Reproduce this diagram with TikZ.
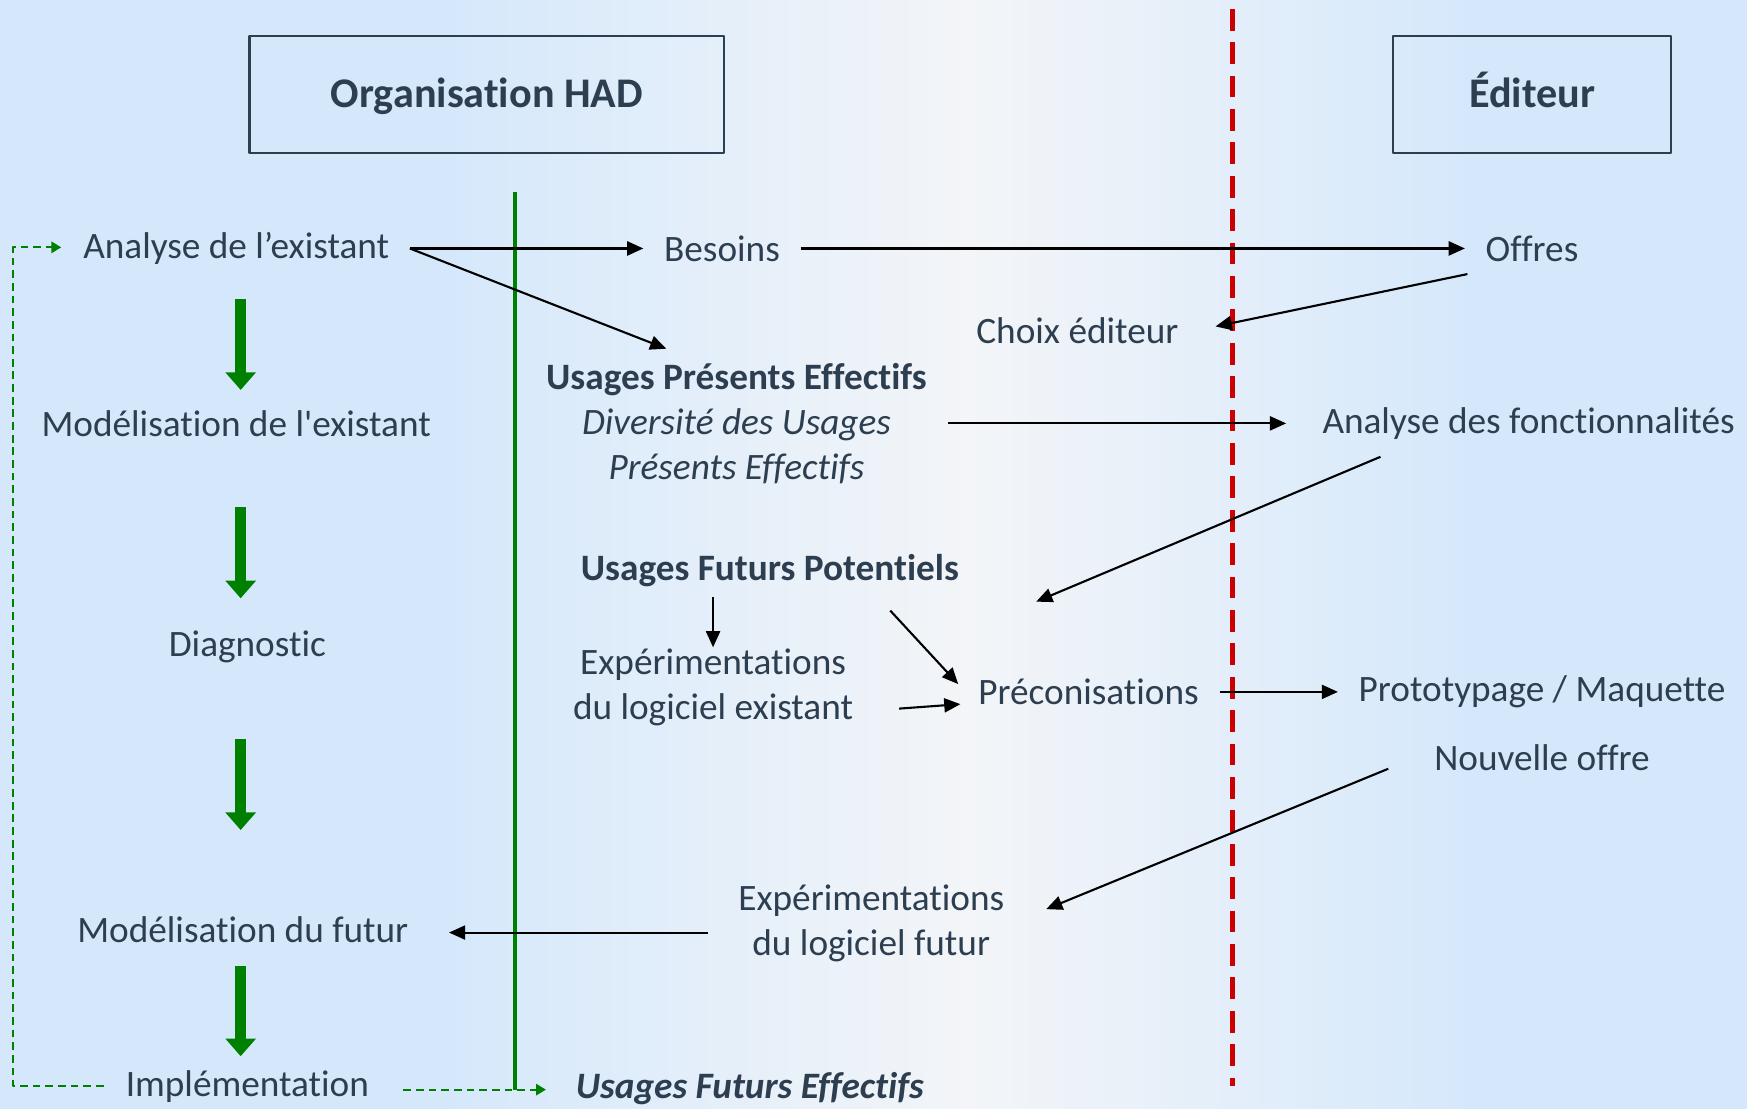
\documentclass[tikz,border=0pt]{standalone}
\usepackage{fontspec}
\setmainfont{Carlito}[Ligatures={NoCommon}]
\usetikzlibrary{arrows.meta,calc}
\definecolor{txtslate}{RGB}{44,62,80}
\definecolor{bgblue}{RGB}{213,232,251}
\definecolor{bgmid}{RGB}{243,245,248}
\definecolor{hadgreen}{RGB}{0,128,0}
\definecolor{sepred}{RGB}{204,0,0}
\begin{document}
\begin{tikzpicture}[x=0.01114cm, y=-0.01114cm, font=\fontsize{10.6}{12.8}\selectfont, line join=round,
		>={Triangle[length=4.6pt,width=4pt]},
		lbl/.style={text=txtslate, inner xsep=5.7pt, inner ysep=2pt, align=center},
		hdr/.style={draw=txtslate, line width=0.7pt, text=txtslate, font=\fontsize{12}{14}\selectfont\bfseries,
			minimum height=1.17cm, text height=8.4pt, text depth=1pt},
		arr/.style={->, line width=0.6pt},
		flowarrow/.style={hadgreen, line width=3.2pt, -{Triangle[length=5pt,width=8.4pt]}},
		feedback/.style={hadgreen, line width=0.6pt, dash pattern=on 2.2pt off 1.4pt, -{Triangle[length=2.8pt,width=3.2pt]}}]
		\useasboundingbox (0,0) rectangle (1568,995);
		% fond
		\fill[bgblue] (0,0) rectangle (1568,995);
		\shade[left color=bgblue, right color=bgmid] (400,0) rectangle (870,995);
		\shade[left color=bgmid, right color=bgblue] (870,0) rectangle (1320,995);
		% titres
		\node[hdr, minimum width=4.746cm] (had) at (437,85) {Organisation HAD};
		\node[hdr, minimum width=2.774cm] (edit) at (1375,85) {Éditeur};
		% separateurs
		\coordinate (gtop) at (462,172); \coordinate (gbot) at (462,978);
		\coordinate (rtop) at (1106,8); \coordinate (rbot) at (1106,975);
		\draw[hadgreen, line width=1pt] (gtop)--(gbot);
		\draw[sepred, line width=1.3pt, dash pattern=on 6.2pt off 3.3pt] (rtop)--(rbot);
		% colonne gauche
		\node[lbl] (analyse) at (212,223) {Analyse de l’existant};
		\node[lbl] (modexist) at (212,380) {Modélisation de l\textquotesingle existant};
		\node[lbl] (diag) at (222,581) {Diagnostic};
		\node[lbl] (modfut) at (218,834) {Modélisation du futur};
		\node[lbl] (impl) at (222,975) {Implémentation};
		% usages
		\node[lbl] (besoins) at (648,223) {Besoins};
		\node[lbl] (upe) at (661,380) {\textbf{Usages Présents Effectifs}\\\textit{Diversité des Usages}\\\textit{Présents Effectifs}};
		\node[lbl] (ufp) at (691,512) {\textbf{Usages Futurs Potentiels}};
		\node[lbl] (expe) at (640,617) {Expérimentations\\du logiciel existant};
		\node[lbl] (precon) at (977,621) {Préconisations};
		\node[lbl] (choix) at (967,297) {Choix éditeur};
		\node[lbl] (expf) at (782,829) {Expérimentations\\du logiciel futur};
		\node[lbl] (uff) at (673,977) {\textbf{\textit{Usages Futurs Effectifs}}};
		% editeur
		\node[lbl] (offres) at (1375,223) {Offres};
		\node[lbl] (afonc) at (1372,380) {Analyse des fonctionnalités};
		\node[lbl] (proto) at (1384,621) {Prototypage / Maquette};
		\node[lbl] (noffre) at (1384,680) {Nouvelle offre};
		% fleches
		\draw[arr] (analyse.east)--(besoins.west);
		\draw[arr] (analyse.east)--($(upe)+(-63,-67)$);
		\draw[arr] (besoins.east)--(offres.west);
		\draw[arr] ($(offres)+(-58,23)$)--($(choix)+(124,-4)$);
		\draw[arr] (upe.east)--($(afonc.west)+(-14,0)$);
		\draw[arr] ($(afonc)+(-133,30)$)--($(precon)+(-47,-81)$);
		\draw[arr] ($(ufp)+(-51,24)$)--($(expe)+(0,-36)$);
		\draw[arr] ($(ufp)+(108,36)$)--($(precon)+(-117,-7)$);
		\draw[arr] ($(expe)+(167,19)$)--($(precon)+(-115,11)$);
		\draw[arr] (precon.east)--(proto.west);
		\draw[arr] ($(noffre)+(-138,10)$)--($(expf)+(157,-13)$);
		\draw[arr] ($(expf)+(-147,8)$)--($(modfut)+(185,3)$);
		% demarche
		\draw[flowarrow] ($(analyse)+(4,45)$)--($(modexist)+(4,-30)$);
		\draw[flowarrow] ($(modexist)+(4,75)$)--($(diag)+(-6,-44)$);
		\draw[flowarrow] ($(diag)+(-6,82)$)--($(modfut)+(-2,-89)$);
		\draw[flowarrow] ($(modfut)+(-2,33)$)--($(impl)+(-6,-27)$);
		\draw[feedback] ($(impl)+(-129,0)$) -- ++(-81,0) |- ($(analyse)+(-157,-1)$);
		\draw[feedback] ($(impl)+(140,3)$)--($(uff)+(-183,1)$);
\end{tikzpicture}
\end{document}
